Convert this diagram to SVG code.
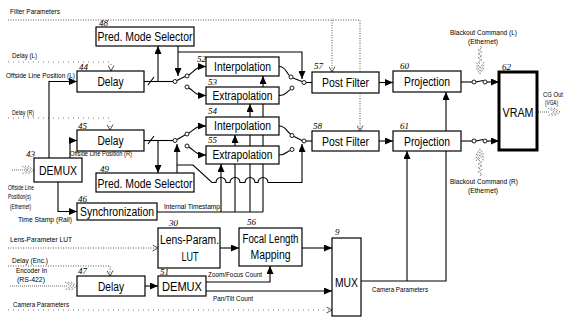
<svg xmlns="http://www.w3.org/2000/svg" width="568" height="326" viewBox="0 0 568 326">
<defs>
<style>
.box{fill:#fff;stroke:#000;stroke-width:1.2}
.vram{fill:#fff;stroke:#000;stroke-width:3}
.t{font-family:"Liberation Sans",Arial,sans-serif;font-size:12.5px;fill:#000;text-anchor:middle}
.tb{font-family:"Liberation Sans",Arial,sans-serif;font-size:13.5px;fill:#000;text-anchor:middle}
.s{font-family:"Liberation Sans",Arial,sans-serif;font-size:7px;fill:#000}
.n{font-family:"Liberation Serif","Times New Roman",serif;font-style:italic;font-size:9px;fill:#000}
.w{fill:none;stroke:#000;stroke-width:1.1}
.d{fill:none;stroke:#555;stroke-width:1;stroke-dasharray:1,1.5}
.ds{fill:none;stroke:#777;stroke-width:1;stroke-dasharray:1,4}
.h{fill:none;stroke:#666;stroke-width:1;stroke-dasharray:1,1}
.c{fill:#fff;stroke:#000;stroke-width:0.9}
</style>
<marker id="a" markerUnits="userSpaceOnUse" markerWidth="8" markerHeight="7" refX="8" refY="3.5" orient="auto"><path d="M0,0 L8,3.5 L0,7 z" fill="#000"/></marker>
<marker id="o" markerUnits="userSpaceOnUse" markerWidth="7" markerHeight="7" refX="6" refY="3.5" orient="auto"><path d="M0.5,0.5 L6,3.5 L0.5,6.5" fill="none" stroke="#555" stroke-width="1"/></marker>
<g id="hx"><path class="h" d="M-6,-4 L0,0 L-6,4 M-9,-4 L-3,0 L-9,4 M-12,-4 L-6,0 L-12,4"/></g>
</defs>
<rect width="568" height="326" fill="#fff"/>

<g id="connectors">
<path class="d" d="M8,20 H360 V131" marker-end="url(#o)"/>
<path class="d" d="M332,20 V72" marker-end="url(#o)"/>
<path class="ds" d="M8,62 H111 V71" marker-end="url(#o)"/>
<path class="ds" d="M8,118 H110 V130" marker-end="url(#o)"/>
<path class="d" d="M8,248 H158" marker-end="url(#o)"/>
<path class="d" d="M8,266 H110 V276" marker-end="url(#o)"/>
<path class="ds" d="M8,310 H332" marker-end="url(#o)"/>

<path class="h" d="M12,170 H28"/><use href="#hx" transform="translate(34,170)"/>
<path class="h" d="M10,286 H68"/><use href="#hx" transform="translate(77,286)"/>
<path class="h" d="M538,112 H550"/><use href="#hx" transform="translate(560,112)"/>
<path class="h" d="M480,46 l2,2 l-4,2 l4,2 l-4,2 l4,2 l-4,2 l4,2 l-4,2 l2,2"/><use href="#hx" transform="translate(480,74) rotate(90)"/>
<path class="h" d="M480,176 l2,-2 l-4,-2 l4,-2 l-4,-2 l4,-2 l-4,-2 l4,-2 l-4,-2 l2,-2"/><use href="#hx" transform="translate(480,149) rotate(-90)"/>

<path class="w" d="M49,158 V81.5 H77" marker-end="url(#a)"/>
<path class="w" d="M70,158 V140.5 H77" marker-end="url(#a)"/>
<path class="w" d="M58,182 V211.5 H77" marker-end="url(#a)"/>

<path class="w" d="M144,81.5 H173"/>
<path class="w" d="M148,85 L154,77"/>
<path class="w" d="M158,81.5 V46" marker-end="url(#a)"/>
<path class="w" d="M178,46 V76" marker-end="url(#a)"/>
<path class="w" d="M178,52 H302 V79" marker-end="url(#a)"/>
<path class="w" d="M177,80.5 L185,76.5"/>
<path class="w" d="M189,75 C196,70 196,66.5 206,66.5" marker-end="url(#a)"/>
<path class="w" d="M189,88 C196,93 196,95.5 206,95.5" marker-end="url(#a)"/>
<path class="w" d="M279,66.5 C286,66.5 286,73 289.5,75.5"/>
<path class="w" d="M279,95.5 C286,95.5 287,91 290.5,89.5"/>
<path class="w" d="M293,78 L302,81.5"/>
<path class="w" d="M306,82.5 H312"/>

<path class="w" d="M144,140.5 H173"/>
<path class="w" d="M148,144 L154,136"/>
<path class="w" d="M158,140.5 V173" marker-end="url(#a)"/>
<path class="w" d="M177,173 V144" marker-end="url(#a)"/>
<path class="w" d="M177,139.5 L185,135"/>
<path class="w" d="M189,133 C196,128 196,126 206,126" marker-end="url(#a)"/>
<path class="w" d="M189,147 C196,152 196,155 206,155" marker-end="url(#a)"/>
<path class="w" d="M279,126 C286,126 286,131 290.5,134"/>
<path class="w" d="M279,155 C286,155 287,151 290.5,150.5"/>
<path class="w" d="M294,136.5 L302,140.5"/>
<path class="w" d="M306,141 H312"/>

<path class="w" d="M157,212 H263"/>
<path class="w" d="M221,212 V164" marker-end="url(#a)"/>
<path class="w" d="M235,212 V135" marker-end="url(#a)"/>
<path class="w" d="M250,212 V104" marker-end="url(#a)"/>
<path class="w" d="M263,212 V76" marker-end="url(#a)"/>
<path class="w" d="M177,165 H193 L212,182.5 H216 A5,5 0 0 1 226,182.5 H230 A5,5 0 0 1 240,182.5 H245 A5,5 0 0 1 255,182.5 H258 A5,5 0 0 1 268,182.5 H302 V144" marker-end="url(#a)"/>

<path class="w" d="M379,82.5 H393" marker-end="url(#a)"/>
<path class="w" d="M379,141 H393" marker-end="url(#a)"/>
<path class="w" d="M461,82 H472"/>
<path class="w" d="M476,82 L483,80.5"/>
<path class="w" d="M487,82 H499" marker-end="url(#a)"/>
<path class="w" d="M461,141 H472"/>
<path class="w" d="M476,141 L483,139.5"/>
<path class="w" d="M487,141 H499" marker-end="url(#a)"/>

<path class="w" d="M361,281 H446 V92" marker-end="url(#a)"/>
<path class="w" d="M407,281 V151" marker-end="url(#a)"/>

<path class="w" d="M220,248 H239" marker-end="url(#a)"/>
<path class="w" d="M302,248 H332" marker-end="url(#a)"/>
<path class="w" d="M145,286 H158" marker-end="url(#a)"/>
<path class="w" d="M206,282 H270 V266" marker-end="url(#a)"/>
<path class="w" d="M206,291 H332" marker-end="url(#a)"/>

<circle class="c" cx="175" cy="81.5" r="2"/>
<circle class="c" cx="187" cy="76" r="2"/>
<circle class="c" cx="187" cy="87" r="2"/>
<circle class="c" cx="291" cy="77" r="2"/>
<circle class="c" cx="292" cy="88" r="2"/>
<circle class="c" cx="304" cy="82.5" r="2"/>
<circle class="c" cx="175" cy="140.5" r="2"/>
<circle class="c" cx="187" cy="134" r="2"/>
<circle class="c" cx="187" cy="146" r="2"/>
<circle class="c" cx="292" cy="135.5" r="2"/>
<circle class="c" cx="292" cy="149.5" r="2"/>
<circle class="c" cx="304" cy="141" r="2"/>
<circle class="c" cx="474" cy="82" r="2"/>
<circle class="c" cx="485" cy="82" r="2"/>
<circle class="c" cx="474" cy="141" r="2"/>
<circle class="c" cx="485" cy="141" r="2"/>
</g>

<g id="n48"><rect class="box" x="96" y="27" width="98" height="19"/><text class="t" x="145" y="41" textLength="95" lengthAdjust="spacingAndGlyphs">Pred. Mode Selector</text><text class="n" x="99" y="26">48</text></g>
<g id="n44"><rect class="box" x="77" y="71" width="67" height="21"/><text class="t" x="110.5" y="86" textLength="26" lengthAdjust="spacingAndGlyphs">Delay</text><text class="n" x="79" y="70">44</text></g>
<g id="n52"><rect class="box" x="206" y="57" width="73" height="19"/><text class="t" x="242.5" y="71" textLength="57" lengthAdjust="spacingAndGlyphs">Interpolation</text><text class="n" x="197" y="62">52</text></g>
<g id="n53"><rect class="box" x="206" y="87" width="73" height="17"/><text class="t" x="242.5" y="100" textLength="60" lengthAdjust="spacingAndGlyphs">Extrapolation</text><text class="n" x="208" y="85">53</text></g>
<g id="n54"><rect class="box" x="206" y="117" width="73" height="18"/><text class="t" x="242.5" y="130" textLength="57" lengthAdjust="spacingAndGlyphs">Interpolation</text><text class="n" x="208" y="114">54</text></g>
<g id="n55"><rect class="box" x="206" y="146" width="73" height="18"/><text class="t" x="242.5" y="159" textLength="60" lengthAdjust="spacingAndGlyphs">Extrapolation</text><text class="n" x="208" y="143">55</text></g>
<g id="n57"><rect class="box" x="312" y="72" width="67" height="21"/><text class="t" x="345.5" y="87" textLength="47" lengthAdjust="spacingAndGlyphs">Post Filter</text><text class="n" x="314" y="69">57</text></g>
<g id="n58"><rect class="box" x="312" y="131" width="67" height="20"/><text class="t" x="345.5" y="146" textLength="47" lengthAdjust="spacingAndGlyphs">Post Filter</text><text class="n" x="313" y="129">58</text></g>
<g id="n60"><rect class="box" x="393" y="71" width="68" height="21"/><text class="t" x="427" y="86" textLength="46" lengthAdjust="spacingAndGlyphs">Projection</text><text class="n" x="400" y="69">60</text></g>
<g id="n61"><rect class="box" x="393" y="131" width="68" height="20"/><text class="t" x="427" y="146" textLength="46" lengthAdjust="spacingAndGlyphs">Projection</text><text class="n" x="400" y="129">61</text></g>
<g id="n62"><rect class="vram" x="499" y="72" width="38" height="78"/><text class="t" x="518" y="117" textLength="31" lengthAdjust="spacingAndGlyphs">VRAM</text><text class="n" x="502" y="70">62</text></g>
<g id="n43"><rect class="box" x="34" y="158" width="48" height="24"/><text class="tb" x="58" y="175" textLength="38" lengthAdjust="spacingAndGlyphs">DEMUX</text><text class="n" x="26" y="157">43</text></g>
<g id="n45"><rect class="box" x="77" y="130" width="67" height="21"/><text class="t" x="110.5" y="145" textLength="26" lengthAdjust="spacingAndGlyphs">Delay</text><text class="n" x="78" y="129">45</text></g>
<g id="n49"><rect class="box" x="96" y="173" width="98" height="19"/><text class="t" x="145" y="188" textLength="95" lengthAdjust="spacingAndGlyphs">Pred. Mode Selector</text><text class="n" x="100" y="172">49</text></g>
<g id="n46"><rect class="box" x="77" y="203" width="80" height="17"/><text class="t" x="117" y="216" font-size="12" textLength="74" lengthAdjust="spacingAndGlyphs" style="font-size:12px">Synchronization</text><text class="n" x="78" y="202">46</text></g>
<g id="n30"><rect class="box" x="158" y="228" width="62" height="40"/><text class="t" x="189.5" y="244" textLength="59" lengthAdjust="spacingAndGlyphs">Lens-Param.</text><text class="t" x="190" y="261" textLength="17" lengthAdjust="spacingAndGlyphs">LUT</text><text class="n" x="169" y="226">30</text></g>
<g id="n56"><rect class="box" x="239" y="228" width="63" height="38"/><text class="t" x="270.5" y="243" textLength="56" lengthAdjust="spacingAndGlyphs">Focal Length</text><text class="t" x="270.5" y="259" textLength="40" lengthAdjust="spacingAndGlyphs">Mapping</text><text class="n" x="247" y="225">56</text></g>
<g id="n9"><rect class="box" x="332" y="238" width="29" height="78"/><text class="tb" x="346.5" y="287" textLength="23" lengthAdjust="spacingAndGlyphs">MUX</text><text class="n" x="335" y="235">9</text></g>
<g id="n47"><rect class="box" x="77" y="276" width="68" height="20"/><text class="t" x="111" y="291" textLength="26" lengthAdjust="spacingAndGlyphs">Delay</text><text class="n" x="78" y="274">47</text></g>
<g id="n51"><rect class="box" x="158" y="276" width="48" height="20"/><text class="tb" x="182" y="291" textLength="40" lengthAdjust="spacingAndGlyphs">DEMUX</text><text class="n" x="160" y="275">51</text></g>

<g id="labels">
<text class="s" x="10" y="14" textLength="50" lengthAdjust="spacingAndGlyphs">Filter Parameters</text>
<text class="s" x="12" y="58" textLength="25" lengthAdjust="spacingAndGlyphs">Delay (L)</text>
<text class="s" x="6" y="78" textLength="69" lengthAdjust="spacingAndGlyphs">Offside Line Position (L)</text>
<text class="s" x="12" y="115" textLength="22" lengthAdjust="spacingAndGlyphs">Delay (R)</text>
<text class="s" x="70" y="156" textLength="62" lengthAdjust="spacingAndGlyphs">Offside Line Position (R)</text>
<text class="s" x="8" y="190" textLength="26" lengthAdjust="spacingAndGlyphs">Offside Line</text>
<text class="s" x="8" y="199" textLength="23" lengthAdjust="spacingAndGlyphs">Position(s)</text>
<text class="s" x="10" y="209" textLength="21" lengthAdjust="spacingAndGlyphs">(Ethernet)</text>
<text class="s" x="18" y="222" textLength="54" lengthAdjust="spacingAndGlyphs">Time Stamp (Rail)</text>
<text class="s" x="164" y="209" textLength="56" lengthAdjust="spacingAndGlyphs">Internal Timestamp</text>
<text class="s" x="10" y="242" textLength="62" lengthAdjust="spacingAndGlyphs">Lens-Parameter LUT</text>
<text class="s" x="12" y="263" textLength="36" lengthAdjust="spacingAndGlyphs">Delay (Enc.)</text>
<text class="s" x="16" y="273" textLength="31" lengthAdjust="spacingAndGlyphs">Encoder In</text>
<text class="s" x="17" y="282" textLength="28" lengthAdjust="spacingAndGlyphs">(RS-422)</text>
<text class="s" x="13" y="307" textLength="56" lengthAdjust="spacingAndGlyphs">Camera Parameters</text>
<text class="s" x="208" y="277" textLength="54" lengthAdjust="spacingAndGlyphs">Zoom/Focus Count</text>
<text class="s" x="213" y="301" textLength="40" lengthAdjust="spacingAndGlyphs">Pan/Tilt Count</text>
<text class="s" x="372" y="292" textLength="56" lengthAdjust="spacingAndGlyphs">Camera Parameters</text>
<text class="s" x="450" y="35" textLength="67" lengthAdjust="spacingAndGlyphs">Blackout Command (L)</text>
<text class="s" x="468" y="44" textLength="30" lengthAdjust="spacingAndGlyphs">(Ethernet)</text>
<text class="s" x="450" y="184" textLength="68" lengthAdjust="spacingAndGlyphs">Blackout Command (R)</text>
<text class="s" x="468" y="193" textLength="30" lengthAdjust="spacingAndGlyphs">(Ethernet)</text>
<text class="s" x="543" y="97" textLength="20" lengthAdjust="spacingAndGlyphs">CG Out</text>
<text class="s" x="545" y="105" textLength="13" lengthAdjust="spacingAndGlyphs">(VGA)</text>
</g>
</svg>
